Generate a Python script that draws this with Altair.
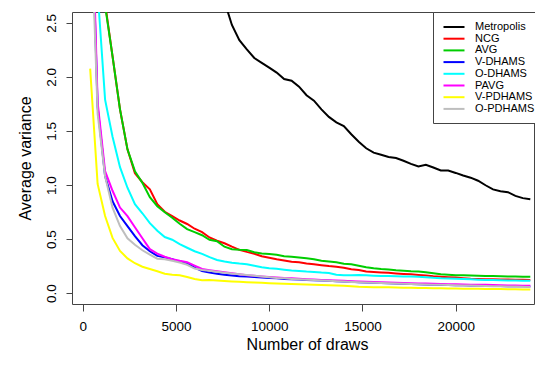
import altair as alt
import pandas as pd

draws = [400 * k for k in range(1, 61)]

series_names = ["Metropolis", "NCG", "AVG", "V-DHAMS", "O-DHAMS", "PAVG", "V-PDHAMS", "O-PDHAMS"]
series_colors = ["#000000", "#FF0000", "#00CD00", "#0000FF", "#00FFFF", "#FF00FF", "#FFFF00", "#BEBEBE"]

metropolis = [None] * 16 + [
    3.25, 2.95, 2.70, 2.48, 2.34, 2.255, 2.175, 2.13, 2.085, 2.04,
    1.98, 1.965, 1.91, 1.83, 1.78, 1.70, 1.63, 1.58, 1.546, 1.47,
    1.40, 1.34, 1.30, 1.28, 1.26, 1.25, 1.225, 1.196, 1.171, 1.188,
    1.162, 1.134, 1.134, 1.112, 1.088, 1.068, 1.04, 0.998, 0.96, 0.942,
    0.934, 0.90, 0.879, 0.868]

ncg = [10.0, 5.0, 2.68, 2.19, 1.70, 1.33, 1.11, 1.026, 0.961, 0.823,
       0.753, 0.713, 0.672, 0.640, 0.596, 0.564, 0.515, 0.485, 0.462, 0.430,
       0.401, 0.382, 0.365, 0.342, 0.328, 0.314, 0.302, 0.291, 0.285, 0.274,
       0.268, 0.259, 0.251, 0.245, 0.236, 0.222, 0.214, 0.200, 0.196, 0.192,
       0.189, 0.183, 0.178, 0.174, 0.169, 0.163, 0.157, 0.153, 0.148, 0.144,
       0.139, 0.134, 0.131, 0.129, 0.128, 0.127, 0.126, 0.125, 0.124, 0.123]

avg = [10.0, 5.0, 2.66, 2.19, 1.70, 1.33, 1.128, 1.02, 0.887, 0.804,
       0.749, 0.698, 0.642, 0.592, 0.564, 0.536, 0.494, 0.481, 0.430, 0.407,
       0.402, 0.399, 0.379, 0.368, 0.362, 0.356, 0.342, 0.336, 0.331, 0.323,
       0.314, 0.300, 0.293, 0.287, 0.273, 0.268, 0.254, 0.240, 0.231, 0.224,
       0.220, 0.213, 0.208, 0.203, 0.201, 0.194, 0.185, 0.176, 0.171, 0.166,
       0.165, 0.163, 0.162, 0.160, 0.159, 0.157, 0.155, 0.154, 0.152, 0.151]

v_dhams = [4.00, 1.72, 1.084, 0.85, 0.714, 0.62, 0.527, 0.444, 0.388, 0.345,
           0.331, 0.314, 0.291, 0.277, 0.236, 0.205, 0.190, 0.180, 0.171, 0.164,
           0.157, 0.154, 0.150, 0.145, 0.140, 0.137, 0.132, 0.129, 0.126, 0.123,
           0.120, 0.117, 0.114, 0.111, 0.108, 0.105, 0.102, 0.099, 0.097, 0.094,
           0.092, 0.089, 0.087, 0.084, 0.082, 0.080, 0.079, 0.077, 0.076, 0.074,
           0.073, 0.071, 0.070, 0.069, 0.067, 0.066, 0.065, 0.064, 0.063, 0.062]

o_dhams = [6.00, 2.79, 1.79, 1.446, 1.165, 0.975, 0.823, 0.739, 0.647, 0.578,
           0.519, 0.494, 0.453, 0.420, 0.388, 0.364, 0.333, 0.307, 0.293, 0.282,
           0.274, 0.268, 0.254, 0.240, 0.231, 0.225, 0.217, 0.210, 0.205, 0.200,
           0.197, 0.191, 0.187, 0.171, 0.166, 0.166, 0.167, 0.165, 0.162, 0.160,
           0.158, 0.157, 0.155, 0.154, 0.153, 0.148, 0.142, 0.138, 0.136, 0.134,
           0.131, 0.128, 0.125, 0.123, 0.121, 0.119, 0.118, 0.117, 0.116, 0.115]

pavg = [4.17, 1.765, 1.128, 0.947, 0.792, 0.712, 0.61, 0.508, 0.407, 0.365,
        0.337, 0.314, 0.299, 0.287, 0.255, 0.224, 0.213, 0.203, 0.194, 0.185,
        0.176, 0.166, 0.161, 0.155, 0.150, 0.145, 0.140, 0.137, 0.133, 0.129,
        0.126, 0.123, 0.120, 0.117, 0.114, 0.111, 0.108, 0.106, 0.103, 0.100,
        0.098, 0.096, 0.094, 0.092, 0.090, 0.089, 0.087, 0.085, 0.083, 0.082,
        0.080, 0.079, 0.078, 0.077, 0.075, 0.074, 0.072, 0.071, 0.069, 0.068]

v_pdhams = [2.077, 1.01, 0.714, 0.511, 0.391, 0.322, 0.277, 0.245, 0.224, 0.203,
            0.180, 0.171, 0.166, 0.150, 0.132, 0.120, 0.122, 0.118, 0.113, 0.109,
            0.105, 0.102, 0.099, 0.096, 0.093, 0.090, 0.088, 0.086, 0.083, 0.081,
            0.078, 0.076, 0.074, 0.071, 0.068, 0.064, 0.060, 0.058, 0.056, 0.055,
            0.054, 0.052, 0.051, 0.050, 0.048, 0.047, 0.046, 0.045, 0.044, 0.043,
            0.042, 0.041, 0.040, 0.039, 0.038, 0.038, 0.037, 0.036, 0.035, 0.035]

o_pdhams = [3.70, 1.66, 1.08, 0.79, 0.62, 0.508, 0.448, 0.397, 0.356, 0.319,
            0.314, 0.300, 0.284, 0.263, 0.228, 0.214, 0.208, 0.199, 0.190, 0.182,
            0.176, 0.168, 0.161, 0.154, 0.148, 0.141, 0.137, 0.132, 0.128, 0.125,
            0.121, 0.117, 0.114, 0.111, 0.107, 0.104, 0.102, 0.099, 0.096, 0.094,
            0.091, 0.089, 0.087, 0.085, 0.083, 0.081, 0.079, 0.077, 0.075, 0.073,
            0.072, 0.070, 0.069, 0.067, 0.065, 0.064, 0.062, 0.061, 0.059, 0.058]

x_ticks = [0, 5000, 10000, 15000, 20000]
y_ticks = [0.0, 0.5, 1.0, 1.5, 2.0, 2.5]

all_series = [metropolis, ncg, avg, v_dhams, o_dhams, pavg, v_pdhams, o_pdhams]
rows = []
for order, (name, vals) in enumerate(zip(series_names, all_series)):
    assert len(vals) == len(draws), name
    for d, v in zip(draws, vals):
        if v is not None:
            rows.append({"draws": d, "variance": v, "method": name, "order": order})
df = pd.DataFrame(rows)

FONT = "Liberation Sans"

chart = alt.Chart(df).mark_line(clip=True, strokeWidth=2).encode(
    x=alt.X("draws:Q",
            scale=alt.Scale(domain=[-574, 24198], nice=False, zero=False),
            axis=alt.Axis(values=x_ticks, format="d", title="Number of draws",
                          grid=False, domain=False, tickSize=7, tickColor="#444",
                          labelFont=FONT, labelFontSize=13.5, labelColor="black",
                          labelBaseline="alphabetic", labelPadding=19, labelFlush=False,
                          titleFont=FONT, titleFontSize=16, titleFontWeight="normal",
                          titleColor="black", titleBaseline="alphabetic",
                          titleX=235, titleY=45)),
    y=alt.Y("variance:Q",
            scale=alt.Scale(domain=[-0.1, 2.6], nice=False, zero=False),
            axis=alt.Axis(values=y_ticks, format=".1f", title="Average variance",
                          grid=False, domain=False, tickSize=6, tickColor="#444",
                          labelFont=FONT, labelFontSize=13.5, labelColor="black",
                          labelAngle=270, labelAlign="center", labelBaseline="alphabetic",
                          labelPadding=11, labelFlush=False,
                          titleFont=FONT, titleFontSize=16, titleFontWeight="normal",
                          titleColor="black", titleAngle=270, titleAlign="center",
                          titleBaseline="alphabetic", titleX=-42, titleY=146)),
    color=alt.Color("method:N",
                    scale=alt.Scale(domain=series_names, range=series_colors),
                    legend=alt.Legend(title=None, orient="none", legendX=361, legendY=0,
                                      symbolType="M-2.1,0H2.1", symbolSize=100,
                                      symbolStrokeWidth=2, symbolOffset=6,
                                      labelOffset=15, labelFont=FONT, labelFontSize=11,
                                      labelColor="black", padding=9, rowPadding=0.7,
                                      strokeColor="#444", fillColor="white")),
    order=alt.Order("order:Q"),
).properties(
    width=462, height=292,
    padding={"left": 64, "top": 4, "right": 1, "bottom": 48},
    autosize=alt.AutoSizeParams(type="none"),
).configure_view(stroke="#444", strokeWidth=1)

chart.save("out.html", embed_options={"renderer": "svg", "actions": False})
